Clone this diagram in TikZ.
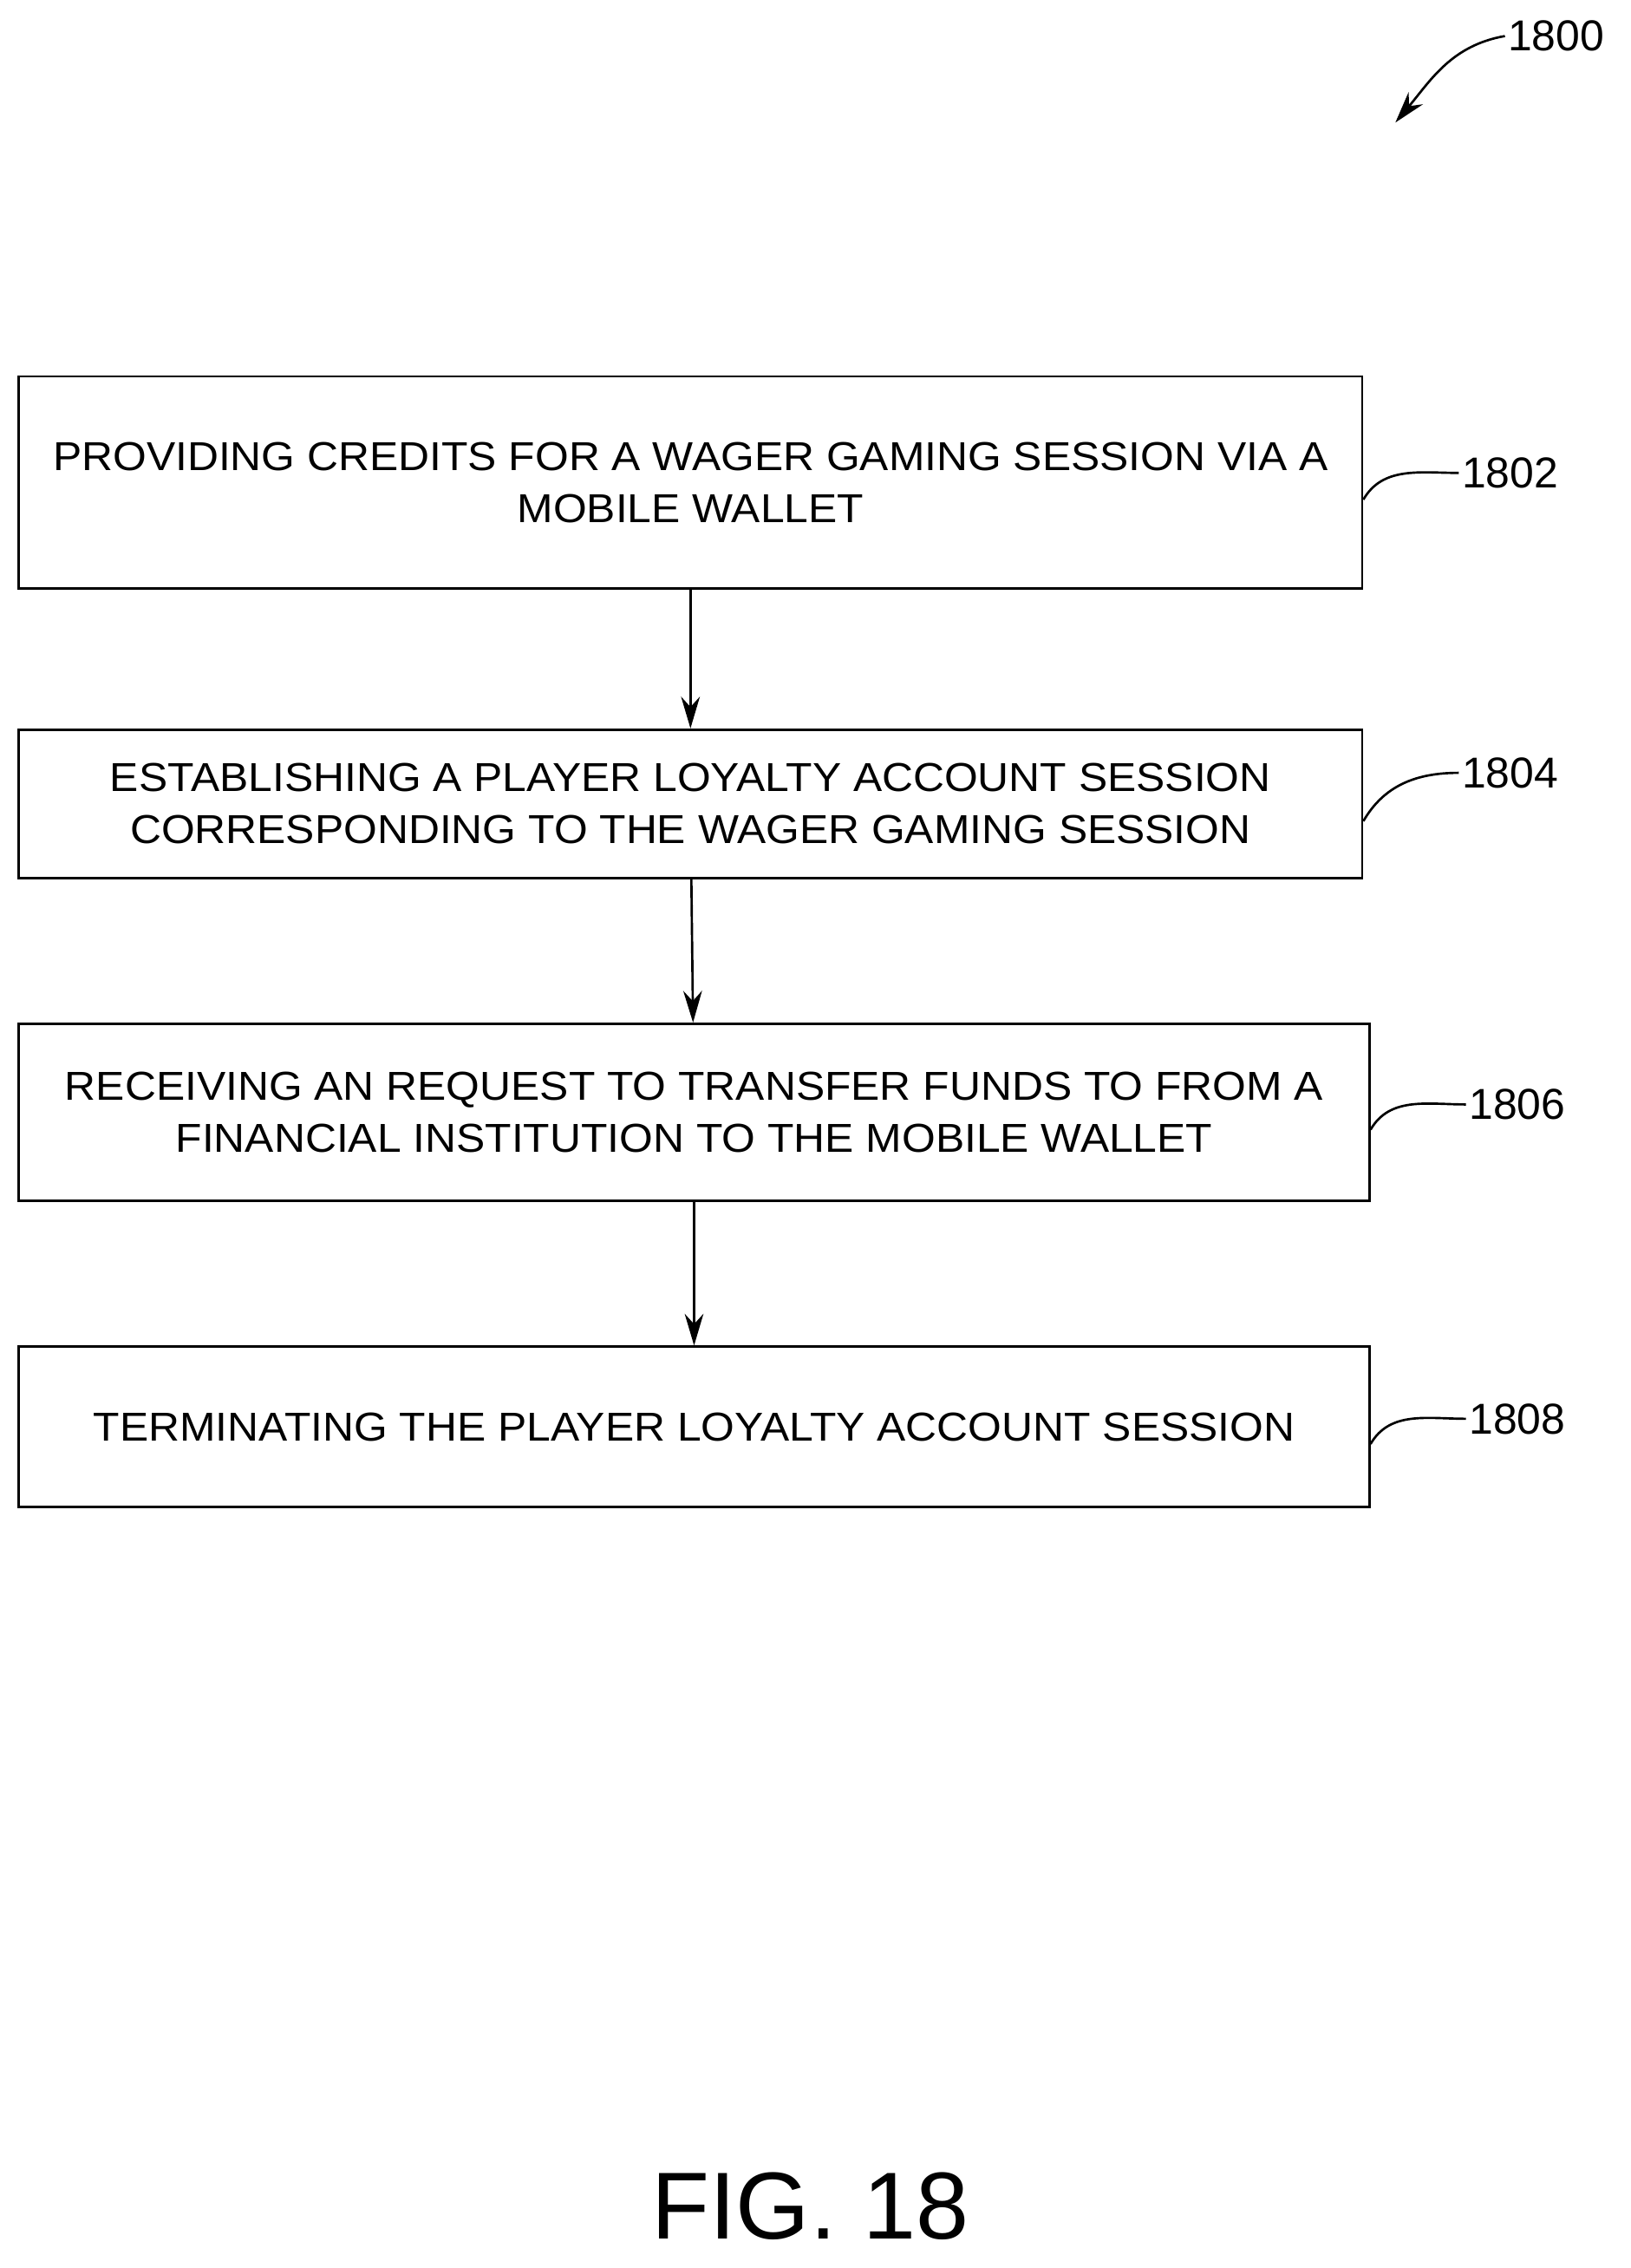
\documentclass[tikz,border=0pt]{standalone}
\usepackage{fontspec}
\setmainfont{Liberation Sans}
\newfontfamily\wideboxfont[FakeStretch=1.07]{Liberation Sans}
\usetikzlibrary{arrows.meta}
\begin{document}
\begin{tikzpicture}[x=1pt,y=1pt,
  stepbox/.style={draw,line width=1.6pt,align=center,inner sep=0pt,font=\wideboxfont\fontsize{28}{36}\selectfont},
  flow/.style={-{Stealth[length=22pt,width=13pt]},line width=1.6pt},
  tag/.style={font=\fontsize{30}{36}\selectfont,anchor=west,inner sep=2pt},
  lead/.style={line width=1.6pt}]
\useasboundingbox (0,0) rectangle (1131,-1573);

\node (B1) at (479,-334.5)[stepbox,minimum width=932pt,minimum height=147pt] {PROVIDING CREDITS FOR A WAGER GAMING SESSION VIA A\\MOBILE WALLET};
\node (B2) at (479,-557.5)[stepbox,minimum width=932pt,minimum height=103pt] {ESTABLISHING A PLAYER LOYALTY ACCOUNT SESSION\\CORRESPONDING TO THE WAGER GAMING SESSION};
\node (B3) at (481.5,-771.5)[stepbox,minimum width=937pt,minimum height=123pt] {RECEIVING AN REQUEST TO TRANSFER FUNDS TO FROM A\\FINANCIAL INSTITUTION TO THE MOBILE WALLET};
\node (B4) at (481.5,-989.5)[stepbox,minimum width=937pt,minimum height=111pt] {TERMINATING THE PLAYER LOYALTY ACCOUNT SESSION};

\draw [flow] (B1) -- (B2);
\draw [flow] (B2) -- (B3);
\draw [flow] (B3) -- (B4);

\node (L1) at (1012,-328)[tag] {1802};
\node (L2) at (1012,-536)[tag] {1804};
\node (L3) at (1017,-766)[tag] {1806};
\node (L4) at (1017,-984)[tag] {1808};
\draw [lead] ([yshift=-12pt]B1.east) to[out=60,in=180] (L1.west);
\draw [lead] ([yshift=-12pt]B2.east) to[out=60,in=180] (L2.west);
\draw [lead] ([yshift=-12pt]B3.east) to[out=60,in=180] (L3.west);
\draw [lead] ([yshift=-12pt]B4.east) to[out=60,in=180] (L4.west);

\node (F) at (1044,-25)[tag] {1800};
\coordinate (P) at (968,-85);
\draw [flow] (F.west) to[out=190,in=50] (P);

\node (C) at (562,-1530)[font=\fontsize{66}{72}\selectfont] {FIG. 18};
\end{tikzpicture}
\end{document}
